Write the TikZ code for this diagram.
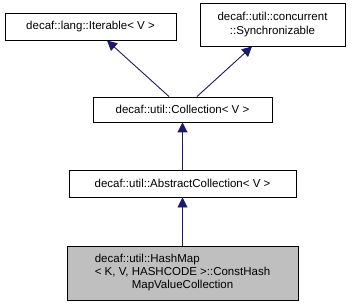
\documentclass[tikz,border=0pt]{standalone}
\usepackage{fontspec}
\setmainfont{Liberation Sans}
\usetikzlibrary{arrows.meta}
\begin{document}
\begin{tikzpicture}[x=1pt,y=-1pt,
  cls/.style={draw=black, line width=0.9pt, fill=white, inner sep=0pt,
    font=\fontsize{11.5}{14.5}\selectfont, align=center},
  cur/.style={cls, fill=black!25},
  inh/.style={draw=midnightblue, line width=0.9pt,
    -{Triangle[length=10pt,width=10pt]}}]
\definecolor{midnightblue}{HTML}{191970}
\useasboundingbox (0,0) rectangle (353,307);
\node[cls, minimum width=171pt, minimum height=27pt] (iter) at (90.5,26.5) {decaf::lang::Iterable< V >};
\node[cls, minimum width=145pt, minimum height=43pt] (sync) at (272.5,24.5) {decaf::util::concurrent\\::Synchronizable};
\node[cls, minimum width=179pt, minimum height=25pt] (coll) at (182.5,109.5) {decaf::util::Collection< V >};
\node[cls, minimum width=227pt, minimum height=27pt] (abs) at (182.5,183.5) {decaf::util::AbstractCollection< V >};
\node[cur, minimum width=231pt, minimum height=54pt] (hm) at (182.5,273)
  {\renewcommand{\arraystretch}{0.88}%
   \begin{tabular}{@{}l@{}}decaf::util::HashMap\\< K, V, HASHCODE >::ConstHash\\\multicolumn{1}{@{}c@{}}{MapValueCollection}\end{tabular}};
\draw[inh] ([xshift=-13.5pt]coll.north) -- ([xshift=16.5pt]iter.south);
\draw[inh] ([xshift=14.5pt]coll.north) -- ([xshift=-20.5pt]sync.south);
\draw[inh] (abs.north) -- (coll.south);
\draw[inh] (hm.north) -- (abs.south);
\end{tikzpicture}
\end{document}
